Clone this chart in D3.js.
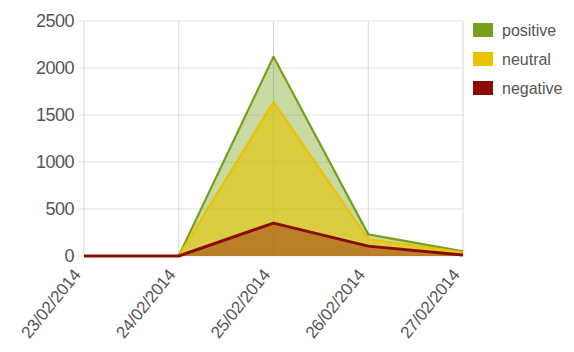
<!DOCTYPE html>
<html><head><meta charset="utf-8">
<script src="https://cdn.jsdelivr.net/npm/d3@7"></script>
<style>
html,body{margin:0;padding:0;background:#fff;}
svg{display:block;font-family:"Liberation Sans",Arial,sans-serif;}
</style></head>
<body><svg id="c" width="574" height="352"></svg>
<script>
const dates = ["23/02/2014","24/02/2014","25/02/2014","26/02/2014","27/02/2014"];
const positive = [0, 0, 2120, 230, 50];
const neutral  = [0, 0, 1640, 180, 40];
const negative = [0, 0, 350, 105, 10];
const yTicks = [0, 500, 1000, 1500, 2000, 2500];
const seriesNames = ["positive", "neutral", "negative"];
const seriesColors = ["#75a01a", "#e8c400", "#8b0a00"];
const seriesFillOpacity = [0.4, 0.6, 0.4];

const svg = d3.select("#c");
const m = {l:84, r:111, t:21, b:96};
const W = 574, H = 352;
const x = d3.scalePoint().domain(dates).range([m.l, W - m.r]);
const y = d3.scaleLinear().domain([0, 2500]).range([H - m.b, m.t]);

// grid
const grid = svg.append("g");
grid.selectAll("line.h").data(yTicks).join("line")
  .attr("x1", m.l - 6).attr("x2", W - m.r)
  .attr("y1", d => y(d)).attr("y2", d => y(d))
  .attr("stroke", "#e3e3e3").attr("stroke-width", 1);
grid.selectAll("line.v").data(dates).join("line")
  .attr("x1", d => x(d)).attr("x2", d => x(d))
  .attr("y1", m.t).attr("y2", H - m.b)
  .attr("stroke", "#d6d6d6").attr("stroke-width", 1);

// y axis labels
const yAxis = d3.axisLeft(y).tickValues(yTicks).tickFormat(d3.format("d")).tickSize(0).tickPadding(10);
const ya = svg.append("g").attr("transform", `translate(${m.l},0)`).call(yAxis);
ya.select(".domain").remove();
ya.selectAll("text").attr("font-size", 18).attr("fill", "#555").attr("letter-spacing", "-0.5")
  .attr("font-family", "'Liberation Sans',Arial,sans-serif");

// x axis labels
const xAxis = d3.axisBottom(x).tickSize(0).tickPadding(0);
const xa = svg.append("g").attr("transform", `translate(0,${H - m.b})`).call(xAxis);
xa.select(".domain").remove();
xa.selectAll("text")
  .attr("font-size", 17).attr("fill", "#555").attr("letter-spacing", "-0.2")
  .attr("font-family", "'Liberation Sans',Arial,sans-serif")
  .attr("text-anchor", "end")
  .attr("dy", "0").attr("y", 0)
  .attr("transform", "translate(-3,19) rotate(-51)");

// areas
const data = [positive, neutral, negative];
const area = d3.area().x((d,i) => x(dates[i])).y0(y(0)).y1(d => y(d));
const line = d3.line().x((d,i) => x(dates[i])).y(d => y(d));
data.forEach((vals, k) => {
  svg.append("path").datum(vals).attr("d", area)
    .attr("fill", seriesColors[k]).attr("fill-opacity", seriesFillOpacity[k]);
});
data.forEach((vals, k) => {
  svg.append("path").datum(vals).attr("d", line)
    .attr("fill", "none").attr("stroke", seriesColors[k])
    .attr("stroke-width", k === 2 ? 3 : 2.2).attr("stroke-linejoin", "round");
});

// legend
const lg = svg.append("g").attr("transform", "translate(473,23)");
seriesNames.forEach((n, i) => {
  const g = lg.append("g").attr("transform", `translate(0,${i*29})`);
  g.append("rect").attr("width", 20).attr("height", 14).attr("fill", seriesColors[i]);
  g.append("text").attr("x", 29).attr("y", 13).attr("font-size", 16)
    .attr("fill", "#555").text(n);
});
</script></body></html>
